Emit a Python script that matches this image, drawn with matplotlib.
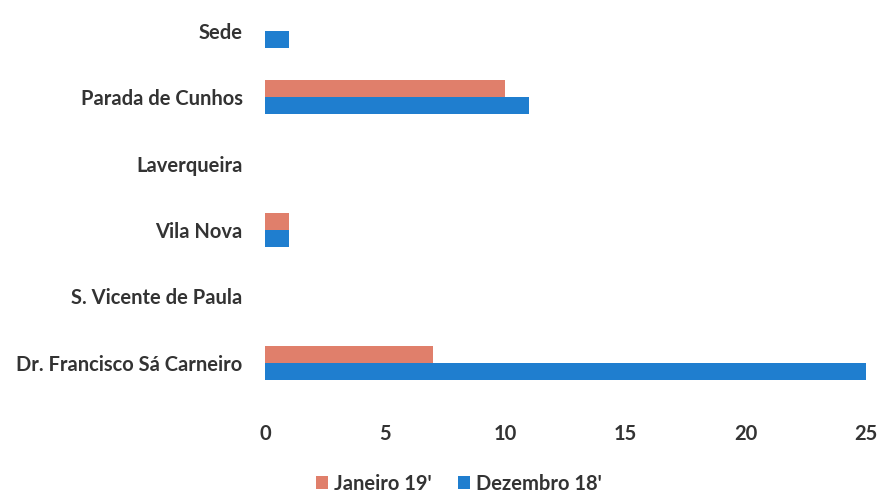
import matplotlib.pyplot as plt
import numpy as np

plt.rcParams['font.family'] = ['Lato', 'DejaVu Sans']

locais = ['Dr. Francisco Sá Carneiro', 'S. Vicente de Paula', 'Vila Nova',
          'Laverqueira', 'Parada de Cunhos', 'Sede']
janeiro_19 = [7, 0, 1, 0, 10, 0]
dezembro_18 = [25, 0, 1, 0, 11, 1]

cor_jan = '#E07F6B'
cor_dez = '#1F7ECF'

fig = plt.figure(figsize=(8.83, 4.92), dpi=100)
ax = fig.add_axes([0.300, 0.195, 0.681, 0.81])

y = np.arange(len(locais))
h = 0.26
ax.barh(y + h / 2, janeiro_19, height=h, color=cor_jan, label="Janeiro 19'")
ax.barh(y - h / 2, dezembro_18, height=h, color=cor_dez, label="Dezembro 18'")

ax.set_xlim(0, 25)
ax.set_ylim(-0.5, 5.5)
ax.set_xticks([0, 5, 10, 15, 20, 25])
ax.set_yticks(y)
ax.set_yticklabels(locais)
for s in ax.spines.values():
    s.set_visible(False)
ax.tick_params(axis='both', length=0, labelsize=14.5, colors='#333333')
ax.tick_params(axis='x', pad=20)
ax.tick_params(axis='y', pad=16)
for lbl in ax.get_xticklabels() + ax.get_yticklabels():
    lbl.set_fontweight('bold')

leg = fig.legend(loc='lower center', bbox_to_anchor=(0.52, -0.04), ncol=2,
                 frameon=False, fontsize=14.5, handlelength=0.6, handleheight=0.6,
                 handletextpad=0.3, columnspacing=1.3)
for t in leg.get_texts():
    t.set_color('#333333')
    t.set_fontweight('bold')

fig.savefig('out.png', dpi=100)
